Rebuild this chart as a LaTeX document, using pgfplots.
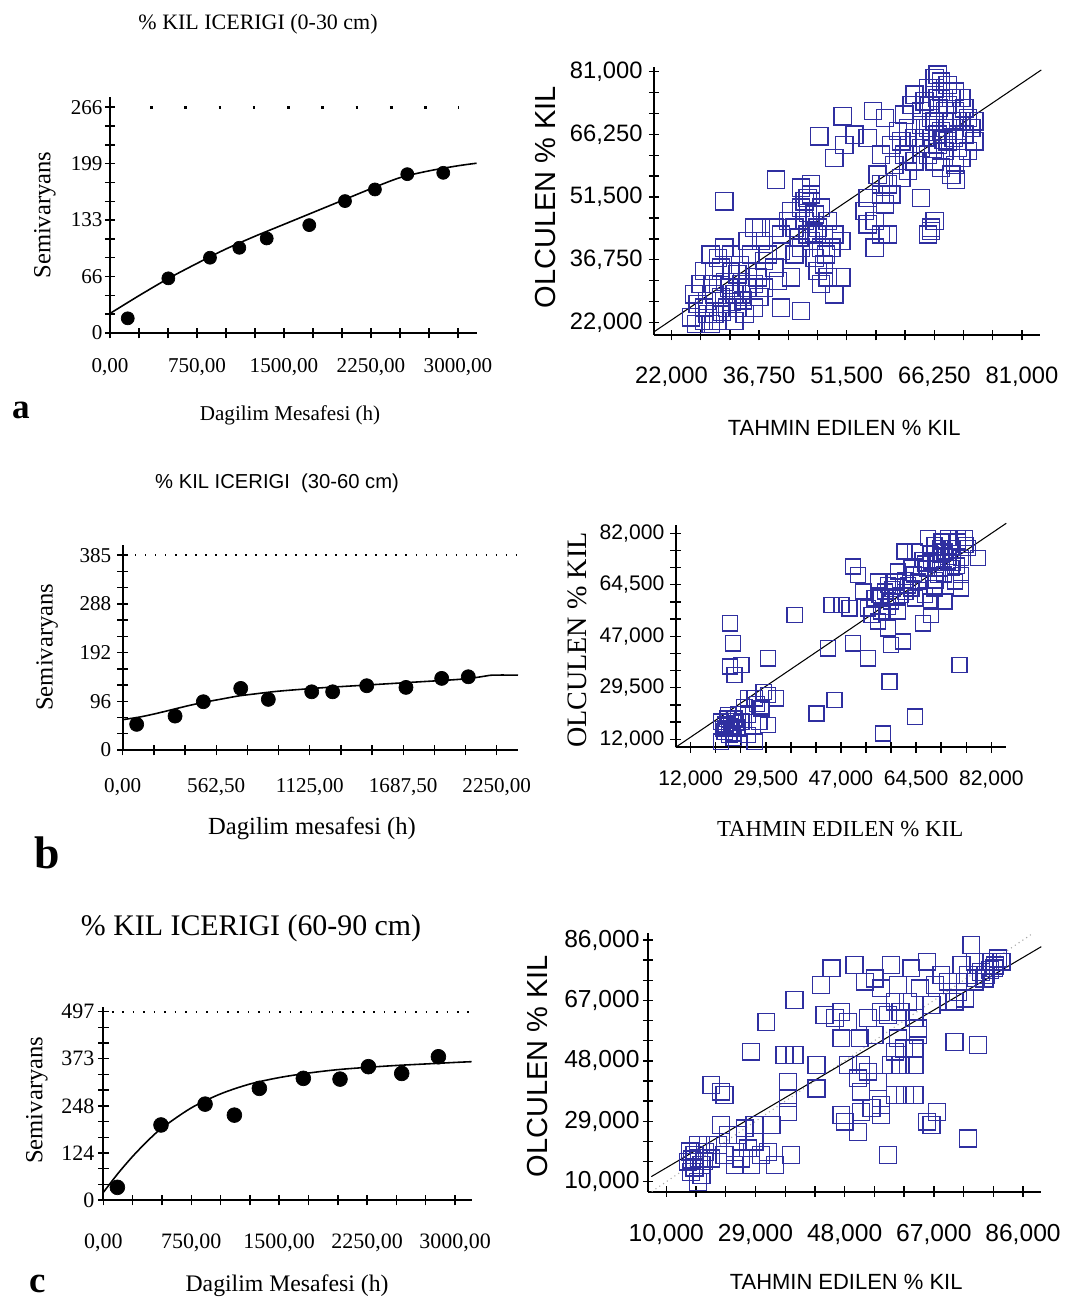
\documentclass[border=0pt]{standalone}
\usepackage{fontspec}
\setmainfont{Liberation Serif}
\setsansfont{Liberation Sans}
\usepackage{pgfplots}
\pgfplotsset{compat=1.18}
\definecolor{SqBlue}{HTML}{2F2FA0}

\pgfplotsset{
  panel/.style={scale only axis, anchor=south west, axis lines*=left,
    axis line style={black,line width=1.1pt}, tick align=center,
    major tick length=0.21cm, minor tick length=0.21cm,
    every tick/.style={black,line width=0.8pt}, clip=false,
    minor x tick num=2, minor y tick num=2},
  semi/.style={panel, tick label style={font=\fontsize{12}{12}\selectfont}},
  scat/.style={panel, tick label style={font=\sffamily\fontsize{13.5}{13.5}\selectfont}},
  dot/.style={only marks, mark=*, mark size=3.7pt, black},
  fit/.style={black, line width=0.9pt, smooth, no marks},
  sq/.style={only marks, mark=square, mark size=4.9pt,
    mark options={draw=SqBlue, line width=0.75pt, fill=none}},
}

\begin{document}
\begin{tikzpicture}
\path[use as bounding box] (0,0) rectangle (21.36,-26.08);

% ---------- a: semivariogram 0-30 cm
\begin{axis}[semi, at={(2.2cm,-6.66cm)}, width=7.34cm, height=4.72cm,
  xticklabel style={yshift=-0.28cm}, yticklabel style={xshift=0.08cm},
  xmin=0, xmax=3164, ymin=0, ymax=278,
  xtick={0,750,1500,2250,3000}, xticklabels={{0,00},{750,00},{1500,00},{2250,00},{3000,00}},
  ytick={0,66.5,133,199.5,266}, yticklabels={0,66,133,199,266}]
\addplot[black, dash pattern=on 1.5pt off 18pt, line width=1.6pt] coordinates {(345,266) (3010,266)};
\addplot[fit] coordinates {(0,23) (250,44) (500,64) (750,82) (1000,99) (1250,114) (1500,128) (1750,142) (2000,156) (2250,170) (2500,183) (2750,191) (3000,197) (3160,200)};
\addplot[dot] coordinates {(153,17.3) (503,64.4) (862,88.7) (1115,100.4) (1351,111.4) (1718,127.1) (2026,155.4) (2284,169.1) (2563,187.1) (2873,188.7)};
\end{axis}

% ---------- a: measured vs predicted
\begin{axis}[scat, at={(13.08cm,-6.70cm)}, width=7.714cm, height=5.36cm,
  xticklabel style={yshift=-0.4cm},
  xmin=19.05, xmax=83.98, ymin=19.05, ymax=82.1,
  xtick={22,36.75,51.5,66.25,81}, xticklabels={{22,000},{36,750},{51,500},{66,250},{81,000}},
  ytick={22,36.75,51.5,66.25,81}, yticklabels={{22,000},{36,750},{51,500},{66,250},{81,000}}]
\addplot[sq] coordinates {
(25.8,28.6) (25.3,23.2) (26.1,21.6) (27.5,22.4) (28.6,21.6) (29.2,24.0) (27.5,25.5) (26.4,26.3) (28.9,31.0) (29.2,34.1)
(28.6,38.0) (30.9,39.6) (30.3,34.9) (31.7,30.2) (32.6,28.6) (33.1,25.5) (31.4,25.5) (30.3,27.9) (33.7,31.0) (34.8,34.1)
(35.4,38.0) (35.9,44.3) (34.8,41.2) (37.1,41.2) (37.6,36.5) (36.5,32.6) (35.9,25.5) (37.6,30.2) (39.3,34.9) (39.9,31.8)
(40.4,25.5) (42.1,32.6) (43.8,24.7) (38.2,38.0) (34.3,24.0) (32.6,22.4) (29.2,28.6) (30.9,50.5) (37.1,44.3) (33.7,28.6)
(34.8,30.2) (33.1,33.3) (35.9,31.0) (32.0,38.0) (29.8,37.2) (27.5,34.1) (26.9,31.0) (28.1,24.0) (29.8,22.4)
(31.0,31.5) (32.2,26.8) (34.0,27.2) (30.5,24.5) (33.5,35.5) (36.8,28.0) (28.0,27.0)
(39.6,55.6) (43.8,53.7) (45.5,54.5) (44.9,51.3) (43.8,49.0) (42.1,48.2) (41.6,45.9) (42.7,44.3) (44.4,45.9) (46.1,47.4)
(47.2,49.0) (46.6,44.3) (48.3,45.9) (49.4,42.7) (50.6,41.2) (48.9,39.6) (47.2,39.6) (45.5,41.2) (43.8,39.6) (46.1,37.2)
(47.7,35.7) (46.6,34.1) (48.3,32.6) (50.6,32.6) (49.4,28.6) (47.2,31.0) (40.4,38.8) (42.7,38.0) (44.9,42.7) (40.4,42.7)
(39.3,44.3) (45.5,52.1) (44.4,50.5) (47.7,42.7) (45.0,47.8) (46.0,43.0) (48.0,38.0) (43.5,42.0)
(46.9,65.8) (49.4,60.7) (51.1,63.8) (50.8,70.5) (52.8,66.2) (55.0,65.4) (55.9,71.7) (57.9,70.1) (57.3,61.5) (56.7,56.8)
(57.3,54.5) (55.0,51.3) (54.5,48.2) (56.2,45.9) (57.9,49.8) (57.3,42.7) (56.2,39.6) (58.4,42.7) (55.0,45.1) (59.0,52.1)
(60.7,56.0) (61.8,57.6) (59.5,59.1) (61.2,61.5) (59.0,63.8) (60.1,67.0) (64.0,51.3) (65.7,44.3) (65.2,42.7) (66.3,45.9)
(65.7,43.5) (57.3,52.1) (58.4,54.5)
(62.9,75.6) (65.2,77.1) (66.3,79.5) (67.4,78.7) (68.5,77.9) (69.7,76.3) (70.8,74.8) (71.3,72.4) (71.9,70.1) (72.5,67.7)
(73.0,64.6) (71.9,62.3) (70.8,60.7) (69.7,59.1) (69.1,56.8) (69.9,55.6) (67.4,58.4) (66.3,59.9) (65.2,61.5) (64.0,63.1)
(62.9,65.4) (61.8,67.7) (61.2,70.9) (62.4,73.2) (64.0,71.7) (65.7,73.2) (66.8,74.8) (68.0,71.7) (69.1,69.3) (70.2,66.2)
(68.5,64.6) (67.4,67.0) (66.3,69.3) (65.2,67.7) (64.6,65.4) (66.8,63.8) (68.0,62.3) (69.1,74.8) (67.4,76.3) (65.7,70.1)
(64.0,68.5) (60.7,64.6) (61.8,61.5) (62.9,59.9) (68.5,67.7) (70.8,69.3) (70.2,63.1) (66.8,66.2) (68.5,73.2) (66.3,77.1)
(71.3,66.2) (73.0,69.3) (68.0,69.3) (64.6,74.0) (69.7,71.7) (66.8,80.3) (67.0,72.5) (67.8,65.0) (69.5,65.5) (66.0,62.8)};
\addplot[black, line width=0.6pt] coordinates {(19.05,19.8) (84.24,81.4)};
\end{axis}

% ---------- b: semivariogram 30-60 cm
\begin{axis}[semi, at={(2.454cm,-15.0cm)}, width=7.906cm, height=4.1cm,
  xticklabel style={yshift=-0.34cm},
  xmin=0, xmax=2378, ymin=0, ymax=405,
  xtick={0,562.5,1125,1687.5,2250}, xticklabels={{0,00},{562,50},{1125,00},{1687,50},{2250,00}},
  ytick={0,96.25,192.5,288.75,385}, yticklabels={0,96,192,288,385}]
\addplot[black, dash pattern=on 0.8pt off 4.9pt, line width=1pt] coordinates {(14,385) (2378,385)};
\addplot[fit] coordinates {(0,60) (100,65) (200,72) (300,80) (400,88) (500,95) (600,101) (700,107) (800,111) (900,115) (1000,118) (1200,123) (1400,127) (1600,131) (1800,135) (2000,139) (2100,142) (2180,146) (2230,148) (2378,148)};
\addplot[dot, mark size=4pt] coordinates {(84,50.7) (315,67) (485,95.4) (710,121.7) (876,100) (1137,115) (1263,115) (1468,127) (1704,123.7) (1919,141.5) (2079,144.7)};
\end{axis}

% ---------- b: measured vs predicted
\begin{axis}[scat, at={(13.514cm,-14.946cm)}, width=6.612cm, height=4.446cm,
  tick label style={font=\sffamily\fontsize{12}{12}\selectfont},
  xticklabel style={yshift=-0.24cm},
  xmin=8.51, xmax=85.5, ymin=9.28, ymax=84.8,
  xtick={12,29.5,47,64.5,82}, xticklabels={{12,000},{29,500},{47,000},{64,500},{82,000}},
  ytick={12,29.5,47,64.5,82}, yticklabels={{12,000},{29,500},{47,000},{64,500},{82,000}}]
\addplot[sq, mark size=4.3pt] coordinates {
(19.1,18.0) (20.7,20.3) (22.2,19.1) (21.5,15.7) (19.9,14.6) (23.0,15.7) (23.8,18.0) (21.1,51.4) (21.9,44.6) (21.1,36.7)
(23.8,37.3) (22.2,33.9) (25.3,25.9) (26.9,25.9) (30.0,27.1) (31.9,25.9) (28.5,22.5) (25.3,20.3) (30.0,16.9) (26.9,11.2)
(19.1,11.2) (25.3,13.5) (30.0,39.5) (36.2,54.3) (41.3,20.8) (45.5,25.4) (44.0,42.9) (49.8,44.6) (53.3,39.5) (58.3,31.6)
(56.8,14.0) (64.2,19.7) (74.6,37.3) (61.4,45.2) (58.7,44.1) (57.9,49.7) (55.6,52.0) (66.1,51.4) (68.0,54.3)
(20.0,17.0) (21.0,16.5) (22.5,17.5) (20.5,19.0) (21.8,14.0) (23.0,20.5) (19.5,15.5) (22.0,12.5) (24.5,23.0) (27.5,24.0)
(29.0,28.0) (28.0,18.0) (20.2,15.8) (21.4,18.2) (22.8,16.2) (21.0,13.5)
(44.8,57.7) (47.1,57.7) (49.0,56.5) (49.8,70.7) (51.0,67.9) (52.2,62.2) (53.3,56.5) (54.8,59.9) (55.6,65.6) (57.2,62.2)
(56.4,55.4) (58.7,58.8) (59.5,65.6) (60.3,69.0) (61.0,61.1) (60.3,55.4) (62.6,64.3) (63.4,70.1) (64.2,75.8) (65.7,67.9)
(66.5,61.1) (68.0,72.4) (68.8,78.1) (67.2,80.3) (70.4,74.7) (71.9,80.3) (72.7,70.1) (74.2,79.2) (75.0,73.5) (75.8,80.3)
(76.6,76.9) (73.5,65.6) (75.0,63.3) (71.1,58.8) (68.8,63.3) (64.2,59.9) (65.0,65.6) (69.6,67.9) (71.1,75.8) (72.7,76.9)
(78.9,73.5) (70.4,79.2) (71.9,72.4) (66.5,71.7) (63.4,63.3) (57.9,64.5) (56.4,59.9) (54.1,54.3) (61.8,75.8) (75.0,67.9)
(74.2,80.3) (68.0,58.8) (56,61) (58,57) (60,60) (62,62) (59,63) (67,70) (69,72) (70,70)
(72,74) (73,77) (68,75) (66,73) (74,71) (76,78) (70,77) (64,68) (62,66) (69,66)
(71,68) (73,72)};
\addplot[black, line width=0.6pt] coordinates {(8.51,9.3) (85.5,85.4)};
\end{axis}

% ---------- c: semivariogram 60-90 cm
\begin{axis}[semi, at={(2.066cm,-24.0cm)}, width=7.368cm, height=3.866cm,
  tick label style={font=\fontsize{12.5}{12.5}\selectfont},
  xticklabel style={yshift=-0.44cm}, yticklabel style={xshift=0.05cm},
  xmin=0, xmax=3142, ymin=0, ymax=510,
  xtick={0,750,1500,2250,3000}, xticklabels={{0,00},{750,00},{1500,00},{2250,00},{3000,00}},
  ytick={0,124.25,248.5,372.75,497}, yticklabels={0,124,248,373,497}]
\addplot[black, dash pattern=on 0.9pt off 5.05pt, line width=1pt] coordinates {(74,497) (3142,497)};
\addplot[fit] coordinates {(0,20) (125,70) (250,115) (375,155) (500,190) (750,243) (1000,280) (1250,306) (1500,323) (1750,335) (2000,344) (2250,350) (2500,355) (2750,359) (3000,363) (3142,365)};
\addplot[dot, mark size=4.2pt] coordinates {(120,33.4) (492,198) (868,253) (1118,224) (1331,294.6) (1706,321) (2019,319) (2261,351.8) (2545,334) (2858,378)};
\end{axis}

% ---------- c: measured vs predicted
\begin{axis}[scat, at={(12.96cm,-23.834cm)}, width=7.866cm, height=5.168cm,
  tick label style={font=\sffamily\fontsize{14}{14}\selectfont},
  xticklabel style={yshift=-0.42cm}, yticklabel style={xshift=0.06cm},
  xmin=6.1, xmax=89.9, ymin=6.86, ymax=88.1,
  xtick={10,29,48,67,86}, xticklabels={{10,000},{29,000},{48,000},{67,000},{86,000}},
  ytick={10,29,48,67,86}, yticklabels={{10,000},{29,000},{48,000},{67,000},{86,000}}]
\addplot[gray!70, dotted, line width=0.6pt] coordinates {(6.9,6.9) (88,88)};
\addplot[sq, mark size=4.8pt] coordinates {
(14.6,16.3) (16.0,18.4) (16.7,21.5) (18.2,19.4) (19.6,17.3) (15.3,13.1) (16.7,10.0) (17.5,15.2) (18.9,21.5) (19.6,40.4)
(21.7,38.3) (22.4,37.2) (21.7,27.8) (23.1,24.7) (21.0,21.5) (22.4,18.4) (24.6,19.4) (26.0,17.3) (27.4,20.5) (28.8,27.8)
(28.8,22.6) (30.2,18.4) (31.7,19.4) (32.4,27.8) (33.1,15.2) (36.6,18.4) (35.9,32.0) (35.9,36.2) (35.9,41.4) (35.2,49.8)
(37.3,49.8) (28.1,50.9) (31.3,60.3) (37.3,67.1) (42.0,46.7) (42.0,39.3) (26.7,26.8) (24.6,15.2) (28.1,15.2) (25.3,24.7)
(15.5,17.0) (17.0,17.5) (16.0,14.5) (18.0,16.5) (17.5,12.0) (15.0,19.5)
(43.0,71.8) (45.2,77.1) (43.7,62.4) (45.9,61.4) (47.3,55.1) (48.7,60.3) (50.1,78.1) (51.2,55.1) (52.3,72.9) (54.4,73.9)
(55.8,63.4) (53.0,61.4) (54.4,56.1) (57.9,78.1) (59.4,71.8) (58.7,66.6) (57.2,62.4) (59.9,63.4) (61.5,66.6) (62.2,77.1)
(62.9,61.4) (63.6,56.1) (59.4,55.1) (58.7,50.9) (57.9,46.7) (59.9,46.7) (62.9,46.7) (60.6,51.9) (64.1,70.8) (65.6,79.2)
(67.2,71.8) (66.5,65.6) (68.6,75.0) (70.0,72.9) (71.4,66.6) (72.9,78.1) (74.3,75.0) (75.0,84.4) (75.7,79.2) (77.1,76.0)
(78.5,79.2) (79.9,77.1) (80.7,80.2) (81.4,79.2) (77.8,73.9) (75.7,72.9) (73.6,67.6) (72.1,69.7) (71.4,54.0) (76.4,53.0)
(74.3,23.6) (48.7,46.7) (51.5,46.7) (50.8,42.5) (51.5,38.3) (47.3,31.0) (48.0,28.9) (50.8,25.7) (51.5,32.0) (53.7,33.1)
(55.8,34.1) (55.8,31.0) (58.7,37.2) (60.8,37.2) (62.9,37.2) (57.2,18.4) (65.6,28.9) (67.7,32.0) (66.5,27.8) (55.1,41.4)
(53.0,44.6) (62.9,51.9) (63.6,58.2) (55.8,70.8) (47.3,63.4) (70.0,66.6) (78,75) (80,78) (76,74) (79,76.5)};
\addplot[black, line width=0.6pt] coordinates {(6.8,11.6) (89.9,83.9)};
\end{axis}

% ---------- titles, axis labels, panel letters (positions in pixels of the layout)
\begin{scope}[x=0.02cm, y=-0.02cm]
\node[font=\fontsize{12.5}{14}\selectfont] at (258,24) {\% KIL ICERIGI (0-30 cm)};
\node[font=\fontsize{12}{14}\selectfont] at (290,415) {Dagilim Mesafesi (h)};
\node[rotate=90, font=\fontsize{14}{16}\selectfont] at (45,215) {Semivaryans};
\node[font=\bfseries\fontsize{20}{22}\selectfont] at (21,410) {a};
\node[rotate=90, font=\sffamily\fontsize{16.5}{18}\selectfont] at (545,197) {OLCULEN \% KIL};
\node[font=\sffamily\fontsize{12.5}{14}\selectfont] at (844,428) {TAHMIN EDILEN \% KIL};

\node[font=\sffamily\fontsize{11.5}{13}\selectfont] at (277,483) {\% KIL ICERIGI\ \ (30-60 cm)};
\node[font=\fontsize{14}{16}\selectfont] at (312,828) {Dagilim mesafesi (h)};
\node[rotate=90, font=\fontsize{14}{16}\selectfont] at (47,647) {Semivaryans};
\node[font=\bfseries\fontsize{26}{28}\selectfont] at (47,853) {b};
\node[rotate=90, font=\fontsize{16}{18}\selectfont] at (577,640) {OLCULEN \% KIL};
\node[font=\fontsize{13}{15}\selectfont] at (840,829) {TAHMIN EDILEN \% KIL};

\node[font=\fontsize{17}{19}\selectfont] at (251,928) {\% KIL ICERIGI (60-90 cm)};
\node[font=\fontsize{13.5}{15}\selectfont] at (287,1285) {Dagilim Mesafesi (h)};
\node[rotate=90, font=\fontsize{14}{16}\selectfont] at (37,1100) {Semivaryans};
\node[font=\bfseries\fontsize{21}{23}\selectfont] at (38,1284) {c};
\node[rotate=90, font=\sffamily\fontsize{16.5}{18}\selectfont] at (537,1066) {OLCULEN \% KIL};
\node[font=\sffamily\fontsize{12.5}{14}\selectfont] at (846,1282) {TAHMIN EDILEN \% KIL};
\end{scope}
\end{tikzpicture}
\end{document}
